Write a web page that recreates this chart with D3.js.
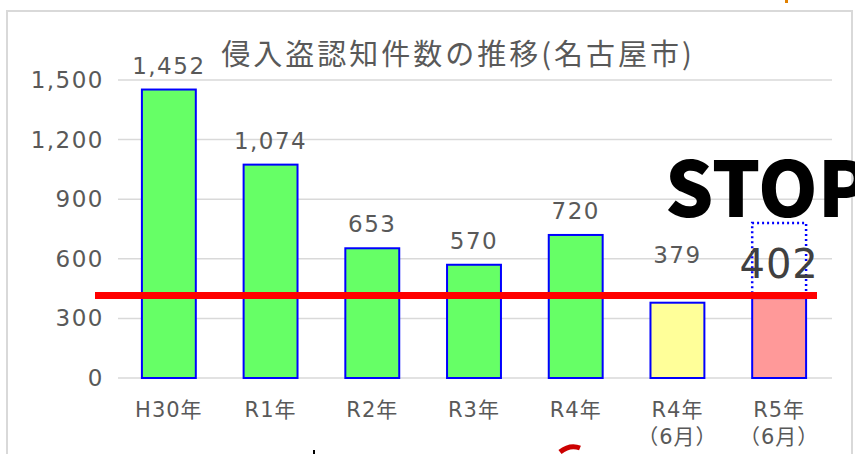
<!DOCTYPE html>
<html>
<head>
<meta charset="utf-8">
<script src="https://cdn.jsdelivr.net/npm/d3@7"></script>
<style>
  body { margin: 0; background: #fff; overflow: hidden; }
  text { font-family: "DejaVu Sans", "Noto Sans CJK JP", sans-serif; }
</style>
</head>
<body>
<div id="chart"></div>
<script>
// données
const categories = ["H30年", "R1年", "R2年", "R3年", "R4年", "R4年\n(6月)", "R5年\n(6月)"];
const values = [1452, 1074, 653, 570, 720, 379, 402];
const barColors = ["#66ff66", "#66ff66", "#66ff66", "#66ff66", "#66ff66", "#ffff99", "#ff9999"];
const yTicks = [0, 300, 600, 900, 1200, 1500];
const title = "侵入盗認知件数の推移(名古屋市)";
const redLineValue = 415;
const stopBoxTop = 780;

const width = 855, height = 454;

const svg = d3.select("#chart")
  .append("svg")
  .attr("width", width)
  .attr("height", height);

// cadre
svg.append("rect")
  .attr("x", 7).attr("y", 11)
  .attr("width", 845).attr("height", 460)
  .attr("fill", "#fff")
  .attr("stroke", "#d9d9d9")
  .attr("stroke-width", 2);

const x = d3.scaleBand()
  .domain(categories)
  .range([118, 830])
  .paddingInner(0.47)
  .paddingOuter(0.235);

const y = d3.scaleLinear()
  .domain([0, 1500])
  .range([378, 80]);

// grille
svg.append("g")
  .selectAll("line")
  .data(yTicks)
  .join("line")
  .attr("x1", 118).attr("x2", 832)
  .attr("y1", d => y(d)).attr("y2", d => y(d))
  .attr("stroke", "#d9d9d9")
  .attr("stroke-width", 1.5);

// axe y
svg.append("g")
  .selectAll("text")
  .data(yTicks)
  .join("text")
  .attr("x", 104)
  .attr("y", d => y(d) + 8)
  .attr("text-anchor", "end")
  .attr("font-size", 23)
  .attr("letter-spacing", 1.5)
  .attr("fill", "#595959")
  .text(d => d3.format(",")(d));

// titre
svg.append("text")
  .attr("x", 458).attr("y", 65)
  .attr("text-anchor", "middle")
  .style("font-family", "'Noto Sans CJK JP', sans-serif")
  .attr("font-size", 29)
  .attr("letter-spacing", 3)
  .attr("fill", "#595959")
  .text(title);

// barres
svg.append("g")
  .selectAll("rect")
  .data(values)
  .join("rect")
  .attr("x", (d, i) => x(categories[i]))
  .attr("y", d => y(d))
  .attr("width", x.bandwidth())
  .attr("height", d => y(0) - y(d))
  .attr("fill", (d, i) => barColors[i])
  .attr("stroke", "#0000ff")
  .attr("stroke-width", 2);

// étiquettes de valeurs (sauf la dernière)
svg.append("g")
  .selectAll("text")
  .data(values.slice(0, 6))
  .join("text")
  .attr("x", (d, i) => x(categories[i]) + x.bandwidth() / 2)
  .attr("y", (d, i) => y(d) - (i === 5 ? 40 : 16))
  .attr("text-anchor", "middle")
  .attr("font-size", 23)
  .attr("letter-spacing", 1.5)
  .attr("fill", "#595959")
  .text(d => d3.format(",")(d));

// axe x
const xLabels = svg.append("g")
  .selectAll("text")
  .data(categories)
  .join("text")
  .attr("x", d => x(d) + x.bandwidth() / 2)
  .attr("y", 417)
  .attr("text-anchor", "middle")
  .attr("font-size", 21)
  .attr("letter-spacing", 1)
  .attr("fill", "#595959");

xLabels.each(function (d) {
  const parts = d.split("\n");
  parts.forEach((p, j) => {
    d3.select(this).append("tspan")
      .attr("x", x(d) + x.bandwidth() / 2)
      .attr("dy", j === 0 ? 0 : 27)
      .text(p.replace("(", "（").replace(")", "）"));
  });
});

// cadre pointillé au-dessus de la dernière barre
const last = categories[categories.length - 1];
svg.append("path")
  .attr("d", `M${x(last)},${y(values[6])} V${y(stopBoxTop)} H${x(last) + x.bandwidth()} V${y(values[6])}`)
  .attr("fill", "none")
  .attr("stroke", "#0000ff")
  .attr("stroke-width", 2.5)
  .attr("stroke-dasharray", "2,3");

// ligne rouge
svg.append("line")
  .attr("x1", 95).attr("x2", 817)
  .attr("y1", y(redLineValue)).attr("y2", y(redLineValue))
  .attr("stroke", "#ff0000")
  .attr("stroke-width", 7);

// valeur mise en avant
svg.append("text")
  .attr("x", x(last) + x.bandwidth() / 2)
  .attr("y", 278)
  .attr("text-anchor", "middle")
  .attr("font-size", 40)
  .attr("letter-spacing", 1)
  .attr("fill", "#404040")
  .text(d3.format(",")(values[6]));

// STOP
svg.append("text")
  .attr("x", 665).attr("y", 217)
  .style("font-family", "'Noto Sans CJK JP', sans-serif")
  .attr("font-size", 76)
  .attr("font-weight", 900)
  .attr("fill", "#000")
  .text("STOP");

// petites marques en bas
svg.append("path")
  .attr("d", "M560,452 Q570,444 580,448")
  .attr("fill", "none")
  .attr("stroke", "#cc0000")
  .attr("stroke-width", 5);
svg.append("rect")
  .attr("x", 313).attr("y", 450)
  .attr("width", 2).attr("height", 4)
  .attr("fill", "#000");
svg.append("rect")
  .attr("x", 785).attr("y", 0)
  .attr("width", 3).attr("height", 3)
  .attr("fill", "#e08000");
</script>
</body>
</html>
